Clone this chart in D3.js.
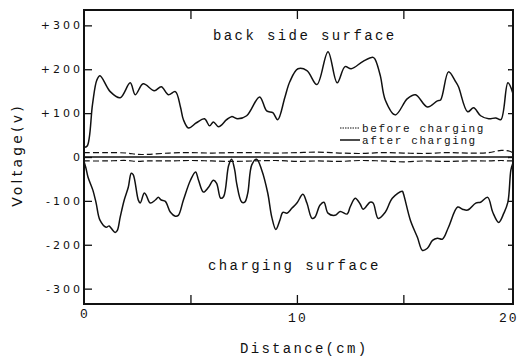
<!DOCTYPE html>
<html>
<head>
<meta charset="utf-8">
<script src="https://cdn.jsdelivr.net/npm/d3@7"></script>
<style>
  body { margin: 0; background: #fff; }
  svg { display: block; }
  .mono { font-family: "Liberation Mono", "DejaVu Sans Mono", monospace; fill: #111; }
  .sans { font-family: "DejaVu Sans", sans-serif; fill: #111; }
</style>
</head>
<body>
<div id="chart"></div>
<script>
// ---- data ----
// back side surface, after charging (distance cm, voltage V)
const backX = [0, 0.15, 0.4, 0.6, 0.75, 1.23, 1.7, 2.17, 2.41, 2.78, 3.3, 3.63, 3.96, 4.29, 4.53, 4.67,
  4.91, 5.28, 5.66, 5.9, 6.08, 6.32, 6.7, 6.93, 7.22, 7.64, 8.25, 8.58, 8.87, 9.1, 9.43, 9.67, 10.05,
  10.47, 10.94, 11.46, 11.89, 12.26, 12.55, 13.11, 13.58, 13.68, 13.92, 14.15, 14.62, 15.19, 15.57,
  16.13, 16.6, 16.75, 17.12, 17.45, 17.59, 18.02, 18.3, 18.63, 19.01, 19.34, 19.58, 19.91, 20.14];
const backV = [22, 25, 120, 175, 185, 149, 135, 169, 142, 167, 151, 160, 142, 149, 114, 85,
  66, 78, 87, 71, 80, 69, 85, 92, 87, 94, 137, 105, 101, 85, 135, 172, 201,
  197, 165, 240, 169, 206, 201, 218, 227, 222, 185, 130, 96, 133, 142,
  114, 128, 130, 194, 172, 160, 103, 112, 94, 87, 89, 85, 169, 146];

// charging surface, after charging
const chargeX = [0, 0.09, 0.19, 0.42, 0.57, 0.75, 1.04, 1.18, 1.27, 1.46, 1.56, 1.7, 1.89, 2.08, 2.22,
  2.31, 2.55, 2.64, 2.83, 2.92, 3.11, 3.35, 3.49, 3.63, 3.82, 4.06, 4.29, 4.43, 4.67, 5.0, 5.24, 5.38,
  5.61, 5.85, 6.08, 6.23, 6.42, 6.56, 6.79, 6.93, 7.08, 7.17, 7.41, 7.55, 7.69, 7.88, 8.11, 8.35, 8.63,
  8.82, 9.01, 9.2, 9.34, 9.53, 9.76, 10.0, 10.28, 10.47, 10.71, 10.85, 11.08, 11.27, 11.46, 11.79,
  12.03, 12.36, 12.5, 12.74, 12.97, 13.11, 13.44, 13.58, 13.82, 14.15, 14.48, 14.95, 15.0, 15.33,
  15.66, 15.9, 16.13, 16.37, 16.6, 16.84, 17.12, 17.55, 17.78, 18.02, 18.4, 18.63, 18.96, 19.2,
  19.48, 19.72, 19.91, 20.05, 20.14];
const chargeV = [-10, -25, -46, -76, -105, -144, -160, -157, -162, -172, -168, -137, -98, -69, -37,
  -40, -98, -105, -82, -87, -105, -98, -92, -98, -101, -126, -135, -133, -98, -53, -34, -53,
  -80, -69, -53, -60, -94, -90, -20, -5, -30, -60, -103, -103, -83, -18, -5, -30, -82,
  -137, -165, -144, -126, -128, -117, -105, -85, -105, -140, -137, -110, -103, -128, -133,
  -124, -130, -114, -94, -107, -119, -103, -105, -140, -126, -94, -78, -83, -144,
  -183, -213, -208, -190, -185, -187, -160, -114, -119, -121, -105, -103, -92, -126,
  -149, -128, -103, -30, -15];

// before charging (dashed), both surfaces
const beforeX = [0, 1, 2, 2.5, 3, 4, 5, 6, 7, 8, 9, 10, 11, 12, 13, 14, 15, 16, 17, 18, 19, 19.6, 20, 20.15];
const beforeBackV = [10, 10, 9, 6, 6, 9, 10, 9, 10, 10, 9, 10, 11, 9, 8, 10, 9, 8, 10, 9, 10, 15, 13, 9];
const beforeChargeV = [-9, -9, -8, -10, -9, -9, -8, -9, -10, -9, -8, -10, -9, -10, -8, -9, -11, -9, -10, -9, -9, -8, -9, -9];

const yTicks = [300, 200, 100, 0, -100, -200, -300];
const yTickLabels = ["+300", "+200", "+100", "0", "-100", "-200", "-300"];
const xTicks = [5, 10, 15];
const xTickLabels = [0, 10, 20];

// ---- layout ----
const width = 520, height = 356;
const plotLeft = 84, plotRight = 513, plotTop = 10, plotBottom = 304;

const svg = d3.select("#chart").append("svg")
  .attr("width", width)
  .attr("height", height);

const x = d3.scaleLinear().domain([0, 20.15]).range([plotLeft, plotRight]);
const y = d3.scaleLinear().domain([-335, 335]).range([plotBottom, plotTop]);

const line = d3.line()
  .x((d) => x(d[0]))
  .y((d) => y(d[1]))
  .curve(d3.curveCatmullRom.alpha(0.5));

// zero reference line
svg.append("line")
  .attr("x1", x(0)).attr("x2", x(20.15))
  .attr("y1", y(0)).attr("y2", y(0))
  .attr("stroke", "#111").attr("stroke-width", 1.6);

// dashed "before charging" lines
[beforeBackV, beforeChargeV].forEach((vals) => {
  svg.append("path")
    .datum(beforeX.map((d, i) => [d, vals[i]]))
    .attr("d", line)
    .attr("fill", "none")
    .attr("stroke", "#111")
    .attr("stroke-width", 1.2)
    .attr("stroke-dasharray", "6,3");
});

// solid "after charging" curves
[[backX, backV], [chargeX, chargeV]].forEach(([xs, vs]) => {
  svg.append("path")
    .datum(xs.map((d, i) => [d, vs[i]]))
    .attr("d", line)
    .attr("fill", "none")
    .attr("stroke", "#111")
    .attr("stroke-width", 1.5);
});

// frame
svg.append("rect")
  .attr("x", plotLeft).attr("y", plotTop)
  .attr("width", plotRight - plotLeft).attr("height", plotBottom - plotTop)
  .attr("fill", "none").attr("stroke", "#111").attr("stroke-width", 2);

// axes with inward ticks
svg.append("g")
  .attr("transform", `translate(${plotLeft},0)`)
  .call(d3.axisRight(y).tickValues(yTicks).tickSize(8).tickFormat(""))
  .call((g) => g.select(".domain").remove())
  .call((g) => g.selectAll("line").attr("stroke", "#111").attr("stroke-width", 1.3));

svg.append("g")
  .attr("transform", `translate(${plotRight},0)`)
  .call(d3.axisLeft(y).tickValues(yTicks).tickSize(5).tickFormat(""))
  .call((g) => g.select(".domain").remove())
  .call((g) => g.selectAll("line").attr("stroke", "#111").attr("stroke-width", 1.3));

svg.append("g")
  .attr("transform", `translate(0,${plotBottom})`)
  .call(d3.axisTop(x).tickValues(xTicks).tickSize(9).tickFormat(""))
  .call((g) => g.select(".domain").remove())
  .call((g) => g.selectAll("line").attr("stroke", "#111").attr("stroke-width", 1.3));

svg.append("g")
  .attr("transform", `translate(0,${plotTop})`)
  .call(d3.axisBottom(x).tickValues(xTicks).tickSize(9).tickFormat(""))
  .call((g) => g.select(".domain").remove())
  .call((g) => g.selectAll("line").attr("stroke", "#111").attr("stroke-width", 1.3));

// y tick labels
svg.append("g")
  .selectAll("text")
  .data(yTicks)
  .enter()
  .append("text")
  .attr("class", "sans")
  .attr("x", 83)
  .attr("y", (d) => y(d) + 4)
  .attr("text-anchor", "end")
  .style("font-size", "11px")
  .style("letter-spacing", "3px")
  .text((d, i) => yTickLabels[i]);

// x tick labels
svg.append("g")
  .selectAll("text")
  .data(xTickLabels)
  .enter()
  .append("text")
  .attr("class", "mono")
  .attr("x", (d) => (d === 20 ? x(d) - 1 : x(d) + 1))
  .attr("y", (d) => (d === 0 ? 318 : 322))
  .attr("text-anchor", "middle")
  .style("font-size", "13px")
  .style("letter-spacing", "2px")
  .text((d) => d);

// axis titles
svg.append("text")
  .attr("class", "mono")
  .attr("x", 240).attr("y", 353)
  .style("font-size", "14px")
  .style("letter-spacing", "2.3px")
  .text("Distance(cm)");

svg.append("text")
  .attr("class", "sans")
  .attr("transform", "translate(22,155) rotate(-90)")
  .attr("text-anchor", "middle")
  .style("font-size", "14px")
  .style("letter-spacing", "3.2px")
  .text("Voltage(v)");

// panel labels
svg.append("text")
  .attr("class", "mono")
  .attr("x", 213).attr("y", 40)
  .style("font-size", "14px")
  .style("letter-spacing", "2.4px")
  .text("back side surface");

svg.append("text")
  .attr("class", "mono")
  .attr("x", 208).attr("y", 270)
  .style("font-size", "14px")
  .style("letter-spacing", "2.4px")
  .text("charging surface");

// legend
svg.append("line")
  .attr("x1", 340).attr("x2", 360).attr("y1", 128).attr("y2", 128)
  .attr("stroke", "#111").attr("stroke-width", 1).attr("stroke-dasharray", "1.5,1");
svg.append("line")
  .attr("x1", 340).attr("x2", 360).attr("y1", 140).attr("y2", 140)
  .attr("stroke", "#111").attr("stroke-width", 1.5);

svg.append("text")
  .attr("class", "mono")
  .attr("x", 362).attr("y", 131.5)
  .style("font-size", "11px")
  .style("letter-spacing", "1.6px")
  .text("before charging");

svg.append("text")
  .attr("class", "mono")
  .attr("x", 362).attr("y", 143.5)
  .style("font-size", "11px")
  .style("letter-spacing", "1.6px")
  .text("after charging");
</script>
</body>
</html>
